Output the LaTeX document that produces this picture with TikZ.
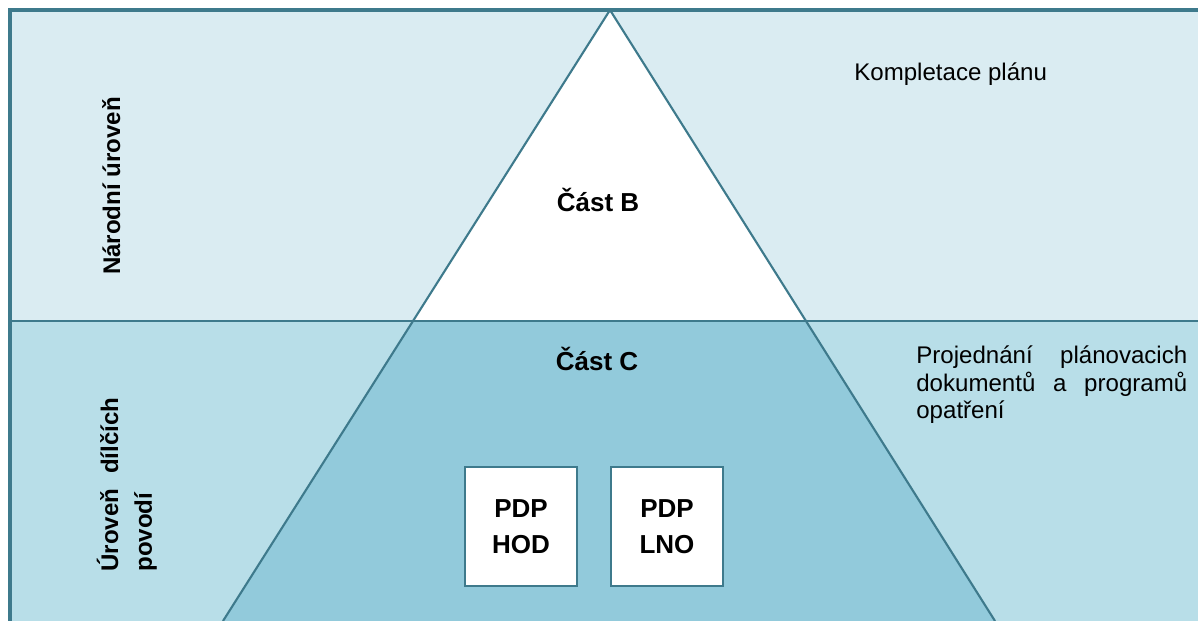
\documentclass[tikz,border=0pt]{standalone}
\usepackage{fontspec}
\setmainfont{Liberation Sans}
\usetikzlibrary{calc}
\definecolor{frameline}{RGB}{62,122,140}
\definecolor{upperband}{RGB}{218,236,242}
\definecolor{lowerband}{RGB}{184,222,232}
\definecolor{partc}{RGB}{146,202,219}
\hyphenpenalty=10000
\exhyphenpenalty=10000
\tolerance=9999
\begin{document}
\begin{tikzpicture}[x=0.02cm,y=-0.02cm,
 notetext/.style={inner sep=0,font=\fontsize{13.7}{15.4}\selectfont},
 leveltext/.style={inner sep=0,rotate=90,font=\fontsize{13.7}{19.3}\selectfont\bfseries},
 parttext/.style={inner sep=0,font=\fontsize{14.8}{17}\selectfont\bfseries},
 pdpbox/.style={draw=frameline,line width=1.1pt,fill=white,minimum width=2.24cm,
  minimum height=2.38cm,align=center,inner sep=0,font=\fontsize{14.8}{20.5}\selectfont\bfseries},
 side/.style={draw=frameline,line width=1.2pt}]
 \useasboundingbox (0,0) rectangle (1198,621);
 \fill[white] (0,0) rectangle (1198,621);
 \fill[upperband] (10,10) rectangle (1198,321);
 \fill[lowerband] (10,321) rectangle (1198,621);
 \coordinate (apex) at (610,10);
 \coordinate (bl) at (223,621);
 \coordinate (br) at (995,621);
 \coordinate (cl) at ($(apex)!{311/611}!(bl)$);
 \coordinate (cr) at ($(apex)!{311/611}!(br)$);
 \begin{scope}
  \clip (10,10) rectangle (1198,621);
  \fill[white] (apex)--(cl)--(cr)--cycle;
  \fill[partc] (cl)--(bl)--(br)--(cr)--cycle;
  \draw[side] (apex)--(bl);
  \draw[side] (apex)--(br);
 \end{scope}
 \draw[frameline,line width=1.7pt] (10,321)--(1198,321);
 \draw[frameline,line width=2.3pt] (10,621)--(10,10)--(1198,10);

 \node[leveltext,anchor=base] (narodni) at (120,186) {Národní úroveň};
 \node[leveltext,anchor=base west,text width=3.48cm,align=justify] (dilci) at (118,572)
  {Úroveň dílčích povodí};
 \node[parttext,anchor=base] (castb) at (598,212) {Část B};
 \node[parttext,anchor=base] (castc) at (597,371) {Část C};
 \node[pdpbox] (hod) at (521,526.5) {PDP\\HOD};
 \node[pdpbox] (lno) at (667,526.5) {PDP\\LNO};
 \node[notetext,anchor=base west] (kompletace) at (854,81) {Kompletace plánu};
 \node[notetext,anchor=base west,text width=5.42cm,align=justify] (projednani) at (916,364)
  {Projednání plánovacich dokumentů a programů opatření};
\end{tikzpicture}
\end{document}
